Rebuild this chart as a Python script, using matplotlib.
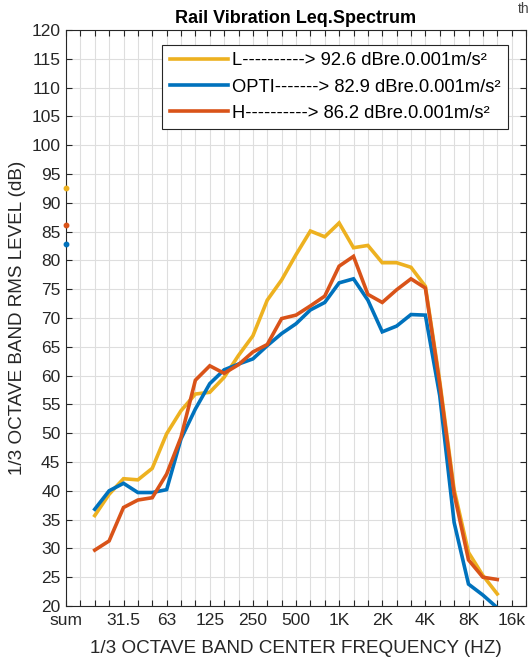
import numpy as np
import matplotlib
matplotlib.use("Agg")
import matplotlib.pyplot as plt

plt.rcParams['font.family'] = ['Liberation Sans', 'DejaVu Sans']

# 1/3 octave band centre frequencies (Hz)
bands = [20, 25, 31.5, 40, 50, 63, 80, 100, 125, 160, 200, 250, 315, 400, 500,
         630, 800, 1000, 1250, 1600, 2000, 2500, 3150, 4000, 5000, 6300, 8000,
         10000, 12500]

L_vals = [35.7, 39.4, 42.1, 41.9, 43.9, 49.9, 53.9, 56.8, 57.1, 59.7, 63.5,
          66.9, 73.1, 76.6, 81.0, 85.1, 84.1, 86.5, 82.2, 82.6, 79.6, 79.6,
          78.8, 75.5, 59.0, 40.2, 29.3, 25.3, 22.1]
OPTI_vals = [36.8, 40.0, 41.3, 39.7, 39.7, 40.2, 49.0, 54.2, 58.6, 61.0, 62.0,
             62.9, 65.2, 67.3, 69.0, 71.4, 72.7, 76.1, 76.8, 73.1, 67.6, 68.6,
             70.6, 70.5, 56.5, 34.5, 23.8, 21.9, 19.7]
H_vals = [29.7, 31.3, 37.1, 38.4, 38.8, 42.9, 49.3, 59.2, 61.7, 60.4, 61.9,
          64.1, 65.4, 69.9, 70.5, 72.1, 73.8, 79.0, 80.7, 74.1, 72.7, 74.9,
          76.8, 75.2, 58.5, 39.5, 28.0, 25.0, 24.6]

sum_vals = {'L': 92.6, 'OPTI': 82.9, 'H': 86.2}
series_names = ['L', 'OPTI', 'H']
legend_labels = ['L----------> 92.6 dBre.0.001m/s²',
                 'OPTI-------> 82.9 dBre.0.001m/s²',
                 'H----------> 86.2 dBre.0.001m/s²']

tick_labels = ['sum', '31.5', '63', '125', '250', '500', '1K', '2K', '4K', '8K', '16k']
tick_label_bands = [None, 31.5, 63, 125, 250, 500, 1000, 2000, 4000, 8000, 16000]

colors = {'L': '#EDB120', 'OPTI': '#0072BD', 'H': '#D95319'}

# x positions: "sum" at 0, one blank slot, then bands from index 2
def band_pos(f):
    all_bands = bands + [16000]
    return all_bands.index(f) + 2

x_band = np.array([band_pos(f) for f in bands])

fig = plt.figure(figsize=(5.30, 6.62), dpi=100)
ax = fig.add_axes([66/530, 1-606/662, (526-66)/530, (606-30)/662])

data = {'L': L_vals, 'OPTI': OPTI_vals, 'H': H_vals}
handles = []
for name, lab in zip(series_names, legend_labels):
    h, = ax.plot(x_band, data[name], color=colors[name], lw=2.6,
                 solid_joinstyle='miter', label=lab, zorder=3)
    handles.append(h)
for name in series_names:
    ax.plot([0], [sum_vals[name]], marker='o', ms=3.2, color=colors[name],
            ls='none', clip_on=False, zorder=4)

ax.set_xlim(0, 32)
ax.set_ylim(20, 120)
ax.set_xticks(np.arange(0, 33))
xt_pos = [0] + [band_pos(f) for f in tick_label_bands[1:]]
labels_all = [''] * 33
for p, t in zip(xt_pos, tick_labels):
    labels_all[p] = t
ax.set_xticklabels(labels_all)
ax.set_yticks(np.arange(20, 121, 5))

tc = '#262626'
ax.tick_params(axis='both', which='both', direction='in', length=4.5,
               width=0.8, colors=tc, labelsize=12.5, top=True, right=True,
               pad=4)
ax.tick_params(axis='x', pad=5)
for s in ax.spines.values():
    s.set_color(tc)
    s.set_linewidth(0.8)
ax.grid(True, color='#dedede', lw=0.8, zorder=0)
ax.set_axisbelow(True)

ax.set_title('Rail Vibration Leq.Spectrum', fontsize=13, fontweight='bold',
             color='black', pad=5)
ax.set_xlabel('1/3 OCTAVE BAND CENTER FREQUENCY (HZ)', fontsize=13.6,
              color=tc, labelpad=9)
ax.set_ylabel('1/3 OCTAVE BAND RMS LEVEL (dB)', fontsize=13.6, color=tc,
              labelpad=4)

leg = ax.legend(handles=handles, loc='upper right',
                bbox_to_anchor=(508/530, 1-45/662), bbox_transform=fig.transFigure,
                fontsize=13.2, frameon=True, fancybox=False, framealpha=1,
                edgecolor=tc, handlelength=3.2, handletextpad=0.2,
                labelspacing=0.5, borderpad=0.4, borderaxespad=0)
leg.get_frame().set_linewidth(0.8)

fig.text(0.999, 0.997, 'th', fontsize=10, color='#444444', va='top', ha='right')

fig.savefig('out.png', dpi=100)
